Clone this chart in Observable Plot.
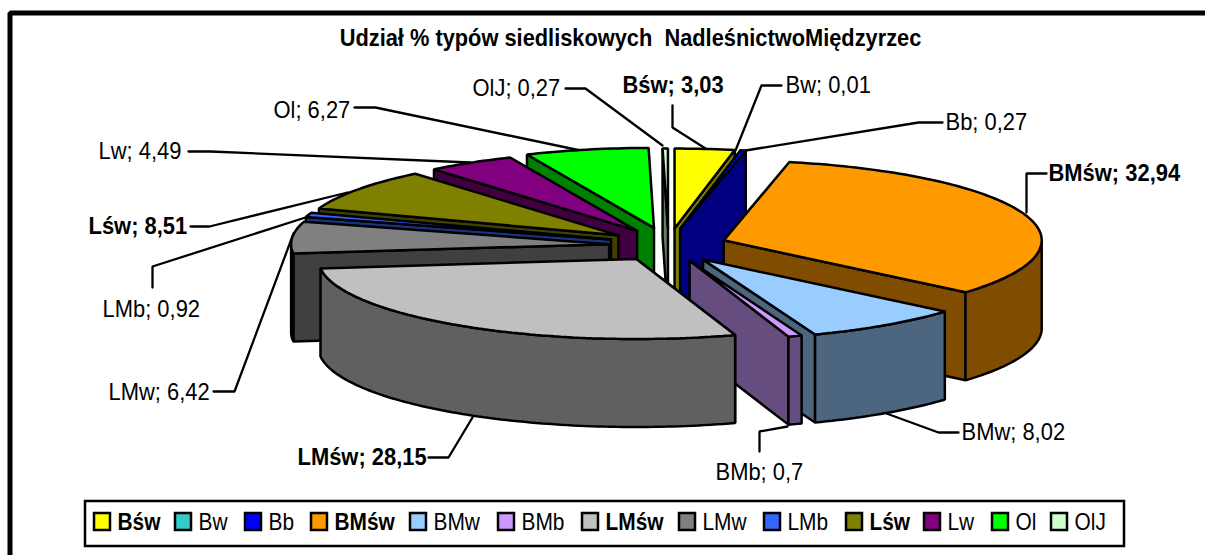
<!DOCTYPE html>
<html><head><meta charset="utf-8">
<script src="https://cdn.jsdelivr.net/npm/d3@7"></script>
<script src="https://cdn.jsdelivr.net/npm/@observablehq/plot@0.6"></script>
<style>html,body{margin:0;padding:0;background:#fff}svg{display:block}</style>
</head><body><div id="chart"></div>
<script>
// data
const names  = ["Bśw","Bw","Bb","BMśw","BMw","BMb","LMśw","LMw","LMb","Lśw","Lw","Ol","OlJ"];
const values = [3.03,0.01,0.27,32.94,8.02,0.7,28.15,6.42,0.92,8.51,4.49,6.27,0.27];
const valueText = ["3,03","0,01","0,27","32,94","8,02","0,7","28,15","6,42","0,92","8,51","4,49","6,27","0,27"];
const boldNames = ["Bśw","BMśw","LMśw","Lśw"];
const title = "Udział % typów siedliskowych  NadleśnictwoMiędzyrzec";

// styles
const topColors  = ["#FFFF00","#33CCCC","#0000FF","#FF9900","#99CCFF","#CC99FF","#C0C0C0","#808080","#3366FF","#808000","#800080","#00FF00","#CCFFCC"];
const sideColors = ["#808000","#1A6666","#000080","#804D00","#4D6680","#664D80","#606060","#404040","#1A3380","#404000","#400040","#008000","#668066"];
const font = "Liberation Sans, Arial, sans-serif";

// layout (page pixels)
const cx = 670, cy = 244, rx = 318, ry = 80, depth = 88, explode = 0.2;
const nudge = {"Bśw":[-2,0],"Bw":[-2,0],"Bb":[-3,0],"BMśw":[-7,1],"BMw":[-4,2],"BMb":[-2,1],"LMśw":[0,1],"LMw":[2,1],"LMb":[1,0],"Lśw":[0,0],"Lw":[0,0],"Ol":[-3,-1],"OlJ":[-2,0]};
const paintOrder = ["OlJ","Ol","Lw","Lśw","LMb","LMw","Bśw","Bw","Bb","BMśw","BMw","BMb","LMśw"];
const labelStart = {"Bśw":[622,85],"Bw":[785,85],"Bb":[945,122],"BMśw":[1048,173],"BMw":[961,432],"BMb":[715,472],"LMśw":[297,457],"LMw":[108,392],"LMb":[102,309],"Lśw":[88,226],"Lw":[98,151],"Ol":[273,110],"OlJ":[472,88]};
const leaders = {
  "Bśw":[[672,105],[672,127],[705,148]],
  "Bw":[[781,85],[761,85],[735,150]],
  "Bb":[[942,122],[918,122],[745,150]],
  "BMśw":[[1046,173],[1026,173],[1026,212]],
  "BMw":[[958,432],[938,432],[886,413]],
  "BMb":[[759,451],[759,431],[787,426]],
  "LMśw":[[428,457],[448,457],[472,417]],
  "LMw":[[213,391],[234,391],[293,233]],
  "LMb":[[152,287],[152,266],[305,217]],
  "Lśw":[[190,226],[209,226],[347,192]],
  "Lw":[[188,151],[210,151],[470,162]],
  "Ol":[[354,107],[375,107],[580,150]],
  "OlJ":[[565,88],[585,88],[662,145]]
};
const legendX = [93,174,244,310,409,497,581,678,763,845,923,991,1050];

const X = p => (p - cx) / rx, Y = p => (cy - p) / ry;
const P = pts => pts.map(([a, b]) => ({x: X(a), y: Y(b)}));
const dz = depth / ry;

// pie geometry from the values
let cum = 0;
const total = d3.sum(values);
const slices = names.map((n, i) => {
  const a0 = cum / total * 2 * Math.PI;
  cum += values[i];
  const a1 = cum / total * 2 * Math.PI;
  const m = (a0 + a1) / 2;
  return {n, i, a0, a1, m,
    ox: explode * Math.sin(m) + nudge[n][0] / rx,
    oy: explode * Math.cos(m) - nudge[n][1] / ry};
});
const rim = (s, a) => ({x: s.ox + Math.sin(a), y: s.oy + Math.cos(a)});
const arcPts = (s, from, to) => {
  const k = Math.max(2, Math.ceil(Math.abs(to - from) / 0.02));
  return d3.range(k + 1).map(j => rim(s, from + (to - from) * j / k));
};
const down = p => ({x: p.x, y: p.y - dz});
const apex = s => ({x: s.ox, y: s.oy});
const poly = (pts, fill) => Plot.line([...pts, pts[0]], {x: "x", y: "y", fill, stroke: "black", strokeWidth: 2.5, strokeLinejoin: "miter", curve: "linear"});

const pieMarks = [];
for (const n of paintOrder) {
  const s = slices.find(d => d.n === n);
  const side = sideColors[s.i], top = topColors[s.i];
  // cut face that faces the viewer
  const cut = s.m < Math.PI ? s.a1 : s.a0;
  const c = apex(s), r = rim(s, cut);
  pieMarks.push(poly([c, r, down(r), down(c)], side));
  // outer wall on the front half
  const f0 = Math.max(s.a0, Math.PI / 2), f1 = Math.min(s.a1, 3 * Math.PI / 2);
  if (f1 > f0) {
    const a = arcPts(s, f0, f1);
    pieMarks.push(poly([...a, ...a.map(down).reverse()], side));
  }
  pieMarks.push(poly([c, ...arcPts(s, s.a0, s.a1)], top));
}

const lineMark = (pts, o = {}) => Plot.line(P(pts), {x: "x", y: "y", stroke: "black", strokeWidth: 2.3, strokeLinejoin: "miter", ...o});

const labelRows = names.map((n, i) => ({
  text: `${n}; ${valueText[i]}`, x: X(labelStart[n][0]), y: Y(labelStart[n][1]), bold: boldNames.includes(n)
}));
const legendRows = names.map((n, i) => ({
  n, bold: boldNames.includes(n), x: X(legendX[i] + 24), y: Y(522), fill: topColors[i],
  x1: X(legendX[i] + 1), x2: X(legendX[i] + 17), y1: Y(530), y2: Y(513)
}));

const textMark = (rows, size, cls) => [false, true].map(b => Plot.text(rows.filter(d => d.bold === b), {
  x: "x", y: "y", text: d => d.text ?? d.n, textAnchor: "start", fontSize: size,
  fontWeight: b ? "bold" : "normal", fill: "black", fontFamily: font, className: cls
}));

const chart = Plot.plot({
  width: 1205, height: 555, margin: 0,
  x: {domain: [-1, 1], range: [cx - rx, cx + rx], axis: null},
  y: {domain: [-1, 1], range: [cy + ry, cy - ry], axis: null},
  style: {background: "white", whiteSpace: "pre"},
  marks: [
    // outer frame: top and left only
    lineMark([[9.5,555],[9.5,12.5],[1205,12.5]], {strokeWidth: 5}),
    Plot.text([title], {x: X(630), y: Y(38), text: d => d, fontSize: 24.5, fontWeight: "bold", fontFamily: font, fill: "black", className: "narrow-title"}),
    ...names.map(n => lineMark(leaders[n])),
    ...pieMarks,
    ...textMark(labelRows, 24.5, "narrow-label"),
    // legend
    Plot.rect([{x1: X(85), x2: X(1124), y1: Y(546), y2: Y(501)}], {x1: "x1", x2: "x2", y1: "y1", y2: "y2", fill: "white", stroke: "black", strokeWidth: 2.5}),
    Plot.rect(legendRows, {x1: "x1", x2: "x2", y1: "y1", y2: "y2", fill: "fill", stroke: "black", strokeWidth: 2.5}),
    ...textMark(legendRows, 24, "narrow-legend")
  ]
});
document.getElementById("chart").append(chart);
// the reference's type is tall and condensed
const squeeze = (sel, f) => chart.querySelectorAll(`.${sel} text`).forEach(t => {
  t.setAttribute("textLength", t.getComputedTextLength() * f);
  t.setAttribute("lengthAdjust", "spacingAndGlyphs");
});
squeeze("narrow-title", 0.89);
squeeze("narrow-label", 0.895);
squeeze("narrow-legend", 0.87);
</script></body></html>
